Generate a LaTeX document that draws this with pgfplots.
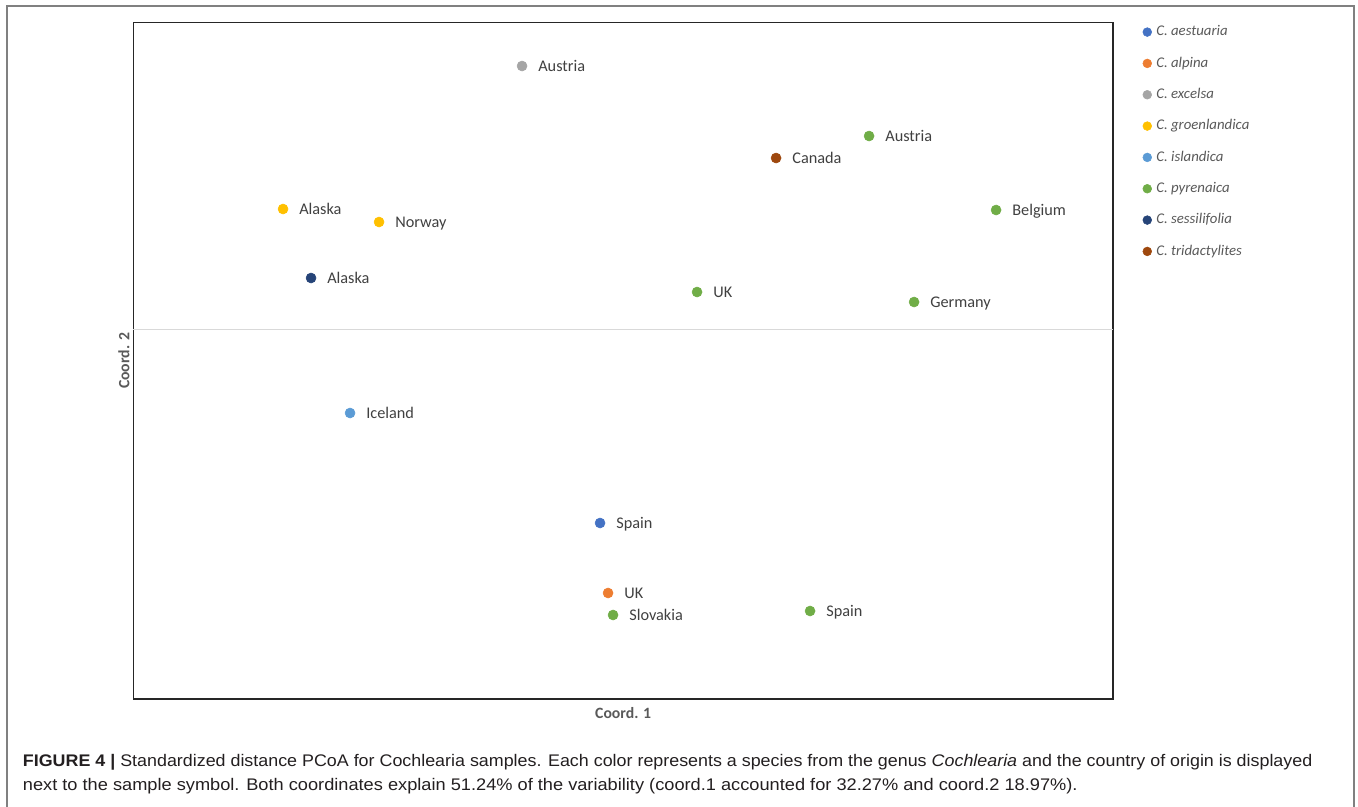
\documentclass[border=0pt]{standalone}
\usepackage{pgfplots}
\pgfplotsset{compat=1.18}
\usepackage{fontspec}
\setmainfont{Carlito}
\newfontfamily\capfont{Liberation Sans}

\definecolor{aestuaria}{HTML}{4472C4}
\definecolor{alpina}{HTML}{ED7D31}
\definecolor{excelsa}{HTML}{A5A5A5}
\definecolor{groenlandica}{HTML}{FFC000}
\definecolor{islandica}{HTML}{5B9BD5}
\definecolor{pyrenaica}{HTML}{70AD47}
\definecolor{sessilifolia}{HTML}{264478}
\definecolor{tridactylites}{HTML}{9E480E}
\definecolor{labeltext}{HTML}{404040}
\definecolor{legendtext}{HTML}{595959}
\definecolor{frameline}{HTML}{808080}
\definecolor{zeroline}{HTML}{D9D9D9}
\definecolor{captext}{HTML}{231F20}

\begin{document}
\begin{tikzpicture}
\useasboundingbox (0,0) rectangle (1018.5pt,604.5pt);
% figure panel frame (open at the bottom)
\draw[frameline, line width=0.9pt] (5.25pt,-1pt) -- (5.25pt,600pt) -- (1015.5pt,600pt) -- (1015.5pt,-1pt);

\begin{axis}[
  at={(100pt,80.25pt)}, anchor=south west,
  width=734.8pt, height=507.2pt, scale only axis,
  xmin=-0.4897, xmax=0.490, ymin=-0.369, ymax=0.3073,
  xtick=\empty, ytick=\empty,
  axis line style={draw=black!85, line width=1.1pt},
  clip=false,
  xlabel={Coord. 1}, ylabel={Coord. 2},
  every axis x label/.style={at={(axis description cs:0.5,-0.0207)}, anchor=center,
    font=\fontsize{11.8}{14}\selectfont\bfseries, text=legendtext},
  every axis y label/.style={at={(axis description cs:-0.0095,0.5)}, anchor=center, rotate=90,
    font=\fontsize{11.8}{14}\selectfont\bfseries, text=legendtext},
  only marks, mark=*, mark size=3.75pt,
  point meta=explicit symbolic,
  nodes near coords,
  every node near coord/.append style={anchor=base west, xshift=12pt, yshift=-4.2pt,
    inner sep=0pt, font=\fontsize{12.2}{14}\selectfont, text=labeltext},
  legend image code/.code={\draw[#1, mark size=3.3pt] plot coordinates {(0pt,0pt)};},
  legend cell align=left,
  legend style={at={(axis description cs:1.0304,0.9965)}, anchor=north west,
    draw=none, fill=none, inner sep=0pt, outer sep=0pt, row sep=13pt,
    font=\fontsize{11.1}{13}\selectfont\itshape, text=legendtext,
    nodes={inner sep=0pt, text height=8pt, text depth=2.5pt},
    /tikz/every odd column/.append style={column sep=3.5pt}},
]
% zero line of coordinate 2
\draw[zeroline, line width=0.8pt] (rel axis cs:0,0.5457) -- (rel axis cs:1,0.5457);

\addplot[aestuaria, mark options={draw=aestuaria, fill=aestuaria}] coordinates {
  (-0.023,-0.193) [Spain]
};
\addlegendentry{C. aestuaria}
\addplot[alpina, mark options={draw=alpina, fill=alpina}] coordinates {
  (-0.015,-0.263) [UK]
};
\addlegendentry{C. alpina}
\addplot[excelsa, mark options={draw=excelsa, fill=excelsa}] coordinates {
  (-0.101,0.264) [Austria]
};
\addlegendentry{C. excelsa}
\addplot[groenlandica, mark options={draw=groenlandica, fill=groenlandica}] coordinates {
  (-0.340,0.121) [Alaska]
  (-0.244,0.108) [Norway]
};
\addlegendentry{C. groenlandica}
\addplot[islandica, mark options={draw=islandica, fill=islandica}] coordinates {
  (-0.273,-0.083) [Iceland]
};
\addlegendentry{C. islandica}
\addplot[pyrenaica, mark options={draw=pyrenaica, fill=pyrenaica}] coordinates {
  (0.246,0.194) [Austria]
  (0.373,0.120) [Belgium]
  (0.074,0.038) [UK]
  (0.291,0.028) [Germany]
  (-0.010,-0.285) [Slovakia]
  (0.187,-0.281) [Spain]
};
\addlegendentry{C. pyrenaica}
\addplot[sessilifolia, mark options={draw=sessilifolia, fill=sessilifolia}] coordinates {
  (-0.312,0.052) [Alaska]
};
\addlegendentry{C. sessilifolia}
\addplot[tridactylites, mark options={draw=tridactylites, fill=tridactylites}] coordinates {
  (0.153,0.172) [Canada]
};
\addlegendentry{C. tridactylites}
\end{axis}

% caption
\node[anchor=base west, inner sep=0pt, text=captext] at (17pt,30pt)
  {\capfont\fontsize{12.6}{15}\selectfont\resizebox{967pt}{\height}{\textbf{FIGURE 4 |} Standardized distance PCoA for Cochlearia samples. Each color represents a species from the genus \textit{Cochlearia} and the country of origin is displayed}};
\node[anchor=base west, inner sep=0pt, text=captext] at (17pt,12pt)
  {\capfont\fontsize{12.6}{15}\selectfont\resizebox{791pt}{\height}{next to the sample symbol. Both coordinates explain 51.24\% of the variability (coord.1 accounted for 32.27\% and coord.2 18.97\%).}};
\end{tikzpicture}
\end{document}
